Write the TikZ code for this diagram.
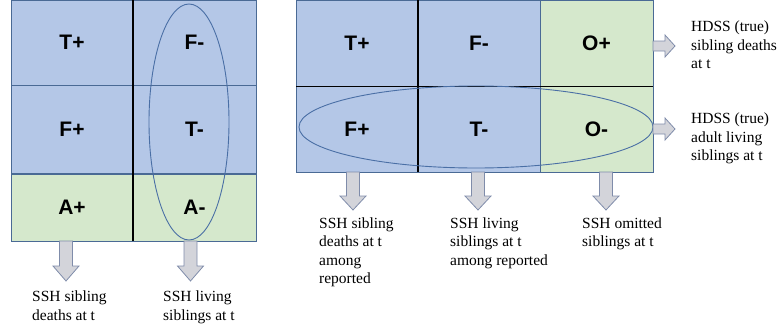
\documentclass[tikz,border=0pt]{standalone}
\usepackage{fontspec}
\setmainfont{Liberation Serif}
\newfontfamily\lblfont{Liberation Sans}
\usetikzlibrary{shapes.geometric}
\definecolor{cblue}{HTML}{B4C7E7}
\definecolor{cgreen}{HTML}{D5E8CC}
\definecolor{cedge}{HTML}{4A6A95}
\definecolor{afill}{HTML}{D3D4DA}
\definecolor{aedge}{HTML}{7F8CAA}
\definecolor{ell}{HTML}{4A6FA5}
\newcommand{\darr}[3]{\draw[blk] (#1) ++(-6.5,0) -- ++(0,#2) -- ++(-6.5,0) -- ++(13,#3) -- ++(13,-#3) -- ++(-6.5,0) -- ++(0,-#2) -- cycle;}
\newcommand{\rarr}[1]{\draw[blk] (#1) ++(0,-5) -- ++(12,0) -- ++(0,-6) -- ++(10,11) -- ++(-10,11) -- ++(0,-6) -- ++(-12,0) -- cycle;}
\begin{document}
\begin{tikzpicture}[x=1pt,y=-1pt,
  cell/.style={draw=cedge,line width=0.8pt,inner sep=0pt,outer sep=0pt,anchor=north west,
    font=\lblfont\fontsize{21}{24}\bfseries\selectfont},
  bcell/.style={cell,fill=cblue},
  gcell/.style={cell,fill=cgreen},
  divider/.style={line width=1.6pt,black},
  oval/.style={ellipse,draw=ell,line width=0.9pt,inner sep=0pt},
  blk/.style={fill=afill,draw=aedge,line width=0.8pt,line join=miter},
  captxt/.style={anchor=north west,inner sep=0pt,align=left,
    font=\fontsize{15.5}{18.5}\selectfont}]
\useasboundingbox (0,0) rectangle (780,332);
% left grid
\node[bcell,minimum width=122pt,minimum height=85pt] (lTp) at (11,0) {T+};
\node[bcell,minimum width=123pt,minimum height=85pt] (lFm) at (133,0) {F-};
\node[bcell,minimum width=122pt,minimum height=88pt] (lFp) at (11,85) {F+};
\node[bcell,minimum width=123pt,minimum height=88pt] (lTm) at (133,85) {T-};
\node[gcell,minimum width=122pt,minimum height=67pt] (lAp) at (11,174) {A+};
\node[gcell,minimum width=123pt,minimum height=67pt] (lAm) at (133,174) {A-};
\draw[divider] (lTp.north east) -- (lAp.south east);
\node[oval,minimum width=80pt,minimum height=236pt] (eL) at (189,122) {};
% right grid
\node[bcell,minimum width=122pt,minimum height=86pt] (rTp) at (296,0) {T+};
\node[bcell,minimum width=122pt,minimum height=86pt] (rFm) at (418,0) {F-};
\node[gcell,minimum width=113pt,minimum height=86pt] (rOp) at (540,0) {O+};
\node[bcell,minimum width=122pt,minimum height=86pt] (rFp) at (296,86) {F+};
\node[bcell,minimum width=122pt,minimum height=86pt] (rTm) at (418,86) {T-};
\node[gcell,minimum width=113pt,minimum height=86pt] (rOm) at (540,86) {O-};
\draw[divider] (rTp.north east) -- (rFp.south east);
\draw[divider,line width=1pt] (rTp.south west) -- (rOp.south east);
\node[oval,minimum width=354pt,minimum height=82pt] (eR) at (476,127) {};
% arrow anchors
\coordinate (aL1) at ([xshift=-6pt]lAp.south);
\coordinate (aL2) at ([xshift=-4pt]lAm.south);
\coordinate (aR1) at ([xshift=-4pt]rFp.south);
\coordinate (aR2) at ([xshift=-1pt]rTm.south);
\coordinate (aR3) at ([xshift=9.5pt]rOm.south);
\coordinate (aE1) at ([yshift=-3pt]rOp.east);
\coordinate (aE2) at ([yshift=0pt]rOm.east);
\darr{aL1}{25}{15}
\darr{aL2}{25}{15}
\darr{aR1}{24}{14}
\darr{aR2}{24}{14}
\darr{aR3}{24}{14}
\rarr{aE1}
\rarr{aE2}
% captions
\node[captxt] (tL1) at (32,291) {SSH sibling\\deaths at t};
\node[captxt] (tL2) at (163,291) {SSH living\\siblings at t};
\node[captxt] (tR1) at (319,217.5) {SSH sibling\\deaths at t\\among\\reported};
\node[captxt] (tR2) at (450,217.5) {SSH living\\siblings at t\\among reported};
\node[captxt] (tR3) at (582,217.5) {SSH omitted\\siblings at t};
\node[captxt] (tE1) at (691,21) {HDSS (true)\\sibling deaths\\at t};
\node[captxt] (tE2) at (691,113) {HDSS (true)\\adult living\\siblings at t};
\end{tikzpicture}
\end{document}
